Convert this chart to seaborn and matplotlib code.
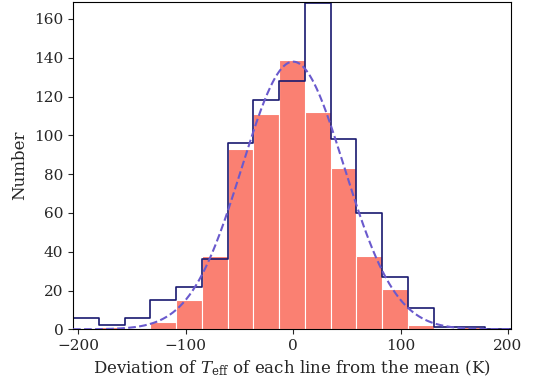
import numpy as np
import pandas as pd
import matplotlib
matplotlib.use("Agg")
import matplotlib.pyplot as plt
import seaborn as sns

# Bin edges (K) and counts
bin_edges = [-205, -181, -157, -133, -109, -85, -61, -37, -13, 11, 35, 59, 83, 107, 131, 155, 179, 203]
outline_counts = [6, 2, 6, 15, 22, 36, 96, 118, 128, 168, 98, 60, 27, 11, 1, 1, 0]
filled_counts = [0, 1, 0, 4, 15, 38, 93, 111, 139, 112, 83, 38, 21, 2, 0, 1, 0]

# Gaussian fit parameters (amplitude, mean, sigma)
fit_amp = 138.0
fit_mean = 0.0
fit_sigma = 47.6

x_ticks = [-200, -100, 0, 100, 200]
y_ticks = [0, 20, 40, 60, 80, 100, 120, 140, 160]

sns.set_style("ticks")
plt.rcParams["font.family"] = ["DejaVu Serif"]
plt.rcParams["mathtext.fontset"] = "dejavuserif"

edges = np.array(bin_edges, dtype=float)
centers = (edges[:-1] + edges[1:]) / 2
df = pd.DataFrame({"dev": centers, "filled": filled_counts, "outline": outline_counts})

fig, ax = plt.subplots(figsize=(5.38, 3.81), dpi=100)
fig.subplots_adjust(left=0.1357, right=0.950, top=0.996, bottom=0.1357)

sns.histplot(data=df, x="dev", weights="filled", bins=list(bin_edges), ax=ax,
             color="salmon", alpha=1, edgecolor="white", linewidth=0.8, zorder=1)
sns.histplot(data=df, x="dev", weights="outline", bins=list(bin_edges), ax=ax,
             element="step", fill=False, color="midnightblue", linewidth=1.2, zorder=2)

xs = np.linspace(edges[0], edges[-1], 400)
ys = fit_amp * np.exp(-0.5 * ((xs - fit_mean) / fit_sigma) ** 2)
sns.lineplot(x=xs, y=ys, ax=ax, color="slateblue", linestyle="--", linewidth=1.5, zorder=3)

ax.set_xlim(edges[0], edges[-1])
ax.set_ylim(0, max(outline_counts) + 1)
ax.set_xticks(x_ticks)
ax.set_yticks(y_ticks)
ax.tick_params(labelsize=11)
ax.set_xlabel(r"Deviation of $T_{\rm eff}$ of each line from the mean (K)", fontsize=12)
ax.set_ylabel("Number", fontsize=12)
for s in ax.spines.values():
    s.set_visible(True)
    s.set_color("black")

fig.savefig("out.png", dpi=100)
